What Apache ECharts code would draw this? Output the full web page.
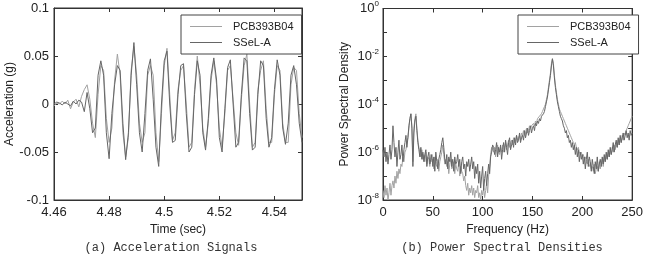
<!DOCTYPE html>
<html>
<head>
<meta charset="utf-8">
<script src="https://cdn.jsdelivr.net/npm/echarts@6/dist/echarts.min.js"></script>
<style>
  html, body { margin: 0; padding: 0; background: #fff; }
  #chart { width: 646px; height: 261px; }
</style>
</head>
<body>
<div id="chart"></div>
<script>
// time signals, sampled every 1 ms from 4.46 s
const tStart = 4.46;
const tStep = 0.001;
const accSSeL = [
  0.000, 0.002, 0.001, -0.001, 0.002, 0.000, -0.002, 0.003, 0.000, 0.004,
  0.002, -0.008, 0.012, -0.005, -0.030, -0.025, 0.030, 0.045, 0.030, -0.030,
  -0.057, -0.010, 0.020, 0.040, 0.035, -0.020, -0.058, -0.030, 0.030, 0.064,
  0.020, -0.030, -0.050, -0.010, 0.035, 0.047, 0.005, -0.045, -0.065, 0.000,
  0.045, 0.055, 0.000, -0.040, -0.038, 0.010, 0.040, 0.042, -0.010, -0.050,
  -0.045, 0.010, 0.045, 0.030, -0.030, -0.048, -0.015, 0.030, 0.048, 0.025,
  -0.035, -0.050, -0.005, 0.038, 0.046, 0.000, -0.045, -0.040, 0.010, 0.048,
  0.045, -0.010, -0.048, -0.045, 0.010, 0.045, 0.040, -0.015, -0.045, -0.035,
  0.015, 0.046, 0.030, -0.025, -0.042, -0.020, 0.030, 0.040, 0.020, -0.020,
  -0.040
];
const accPCB = [
  -0.002, 0.001, 0.000, 0.003, 0.000, 0.004, -0.005, 0.002, 0.005, -0.003,
  0.008, 0.015, 0.020, 0.005, -0.020, -0.035, 0.010, 0.040, 0.035, -0.015,
  -0.040, -0.025, 0.025, 0.052, 0.030, -0.030, -0.055, -0.035, 0.035, 0.060,
  0.030, -0.020, -0.040, -0.030, 0.030, 0.040, 0.030, -0.030, -0.060, -0.010,
  0.040, 0.058, 0.010, -0.038, -0.030, 0.015, 0.035, 0.040, 0.000, -0.045,
  -0.040, 0.015, 0.050, 0.020, -0.025, -0.045, -0.020, 0.025, 0.045, 0.020,
  -0.025, -0.045, -0.010, 0.035, 0.040, 0.005, -0.030, -0.043, 0.005, 0.040,
  0.052, 0.000, -0.045, -0.040, 0.015, 0.035, 0.045, -0.005, -0.040, -0.040,
  0.010, 0.040, 0.035, -0.020, -0.040, -0.040, 0.020, 0.038, 0.035, -0.010,
  -0.035
];

// PSD, log10 of the value, one per Hz from 0 to 250
const fStep = 1;
const psdSSeL = [
  -5.9, -6.2, -5.8, -6.4, -6.0, -6.5, -6.1, -5.7, -6.3, -5.9,
  -4.9, -5.6, -6.2, -5.8, -6.6, -6.0, -5.5, -6.3, -6.1, -5.7,
  -6.4, -5.9, -5.6, -5.3, -5.8, -5.4, -4.9, -4.6, -4.4, -5.0,
  -6.6, -5.2, -4.7, -4.5, -5.1, -5.6, -5.9, -6.2, -5.8, -6.3,
  -6.0, -6.4, -6.1, -5.9, -6.6, -6.2, -6.0, -6.5, -6.3, -6.1,
  -6.6, -6.2, -6.8, -6.0, -6.4, -6.7, -6.3, -6.1, -5.9, -5.6,
  -5.4, -5.8, -6.3, -6.5, -6.1, -6.7, -6.2, -6.4, -6.0, -6.6,
  -6.3, -6.8, -6.2, -6.5, -6.4, -6.1, -6.6, -6.3, -6.9, -6.4,
  -6.2, -6.7, -6.5, -7.0, -6.4, -6.6, -6.3, -6.8, -6.5, -6.2,
  -6.7, -6.4, -7.1, -6.6, -6.9, -6.5, -7.3, -6.8, -7.5, -7.0,
  -6.6, -7.6, -7.1, -6.8, -7.4, -6.9, -6.5, -6.9, -6.2, -6.0,
  -5.7, -5.8, -6.1, -5.9, -5.6, -6.2, -5.8, -6.0, -5.7, -6.3,
  -5.9, -5.6, -6.0, -5.5, -5.8, -6.1, -5.6, -5.4, -5.9, -5.7,
  -5.5, -5.8, -5.4, -5.7, -5.3, -5.6, -5.5, -5.2, -5.6, -5.4,
  -5.3, -5.5, -5.1, -5.4, -5.2, -5.0, -5.3, -5.1, -4.9, -5.2,
  -5.0, -4.9, -5.1, -4.8, -4.9, -4.7, -4.8, -4.6, -4.7, -4.5,
  -4.5, -4.4, -4.3, -4.1, -3.9, -3.7, -3.4, -3.1, -2.8, -2.4,
  -2.1, -2.4, -2.9, -3.3, -3.6, -3.9, -4.1, -4.3, -4.5, -4.6,
  -4.7, -4.9, -5.0, -5.2, -5.1, -5.4, -5.3, -5.6, -5.5, -5.8,
  -5.6, -5.9, -5.7, -6.1, -5.8, -6.2, -5.9, -6.4, -6.0, -6.3,
  -6.1, -6.5, -6.2, -6.7, -6.3, -6.0, -6.6, -6.2, -6.4, -6.8,
  -6.3, -6.6, -6.9, -6.4, -6.7, -6.2, -6.8, -6.5, -6.3, -6.6,
  -6.2, -6.5, -6.1, -6.4, -6.0, -6.3, -5.9, -6.2, -5.8, -6.1,
  -5.9, -5.6, -6.0, -5.7, -5.5, -5.8, -5.4, -5.7, -5.3, -5.6,
  -5.4, -5.2, -5.5, -5.3, -5.1, -5.4, -5.2, -5.5, -5.1, -5.3,
  -5.2
];
const psdPCB = [
  -7.6, -7.9, -7.4, -7.8, -7.5, -8.0, -7.7, -7.3, -7.8, -7.4,
  -7.2, -7.5, -7.0, -7.3, -6.8, -7.1, -6.7, -6.9, -6.5, -6.6,
  -6.2, -6.4, -6.0, -5.9, -5.6, -5.4, -5.0, -4.6, -4.4, -4.9,
  -6.4, -5.0, -4.6, -4.4, -5.0, -5.5, -5.8, -6.0, -6.2, -5.9,
  -6.3, -6.1, -6.4, -6.0, -6.5, -6.2, -6.3, -6.6, -6.1, -6.4,
  -6.3, -6.7, -6.2, -6.5, -6.6, -6.3, -6.8, -6.4, -6.2, -6.0,
  -5.7, -6.1, -6.5, -6.3, -6.6, -6.4, -6.9, -6.5, -6.3, -6.7,
  -6.6, -6.4, -6.9, -6.5, -6.7, -6.8, -6.4, -7.0, -6.6, -6.8,
  -6.9, -7.2, -7.0, -7.4, -7.6, -7.3, -7.8, -7.5, -7.7, -7.4,
  -7.8, -7.5, -7.9, -7.6, -7.7, -7.4, -7.9, -7.7, -8.0, -7.6,
  -7.8, -7.5, -7.9, -7.6, -7.3, -7.7, -7.0, -6.6, -6.1, -5.8,
  -5.9, -6.0, -5.8, -6.2, -5.9, -5.7, -6.0, -6.1, -5.8, -6.0,
  -5.7, -6.0, -5.8, -5.6, -5.9, -5.7, -5.5, -5.8, -5.6, -5.5,
  -5.7, -5.4, -5.6, -5.5, -5.3, -5.5, -5.4, -5.3, -5.5, -5.2,
  -5.3, -5.1, -5.3, -5.2, -5.0, -5.2, -5.1, -4.9, -5.0, -4.9,
  -4.9, -4.8, -4.9, -4.7, -4.8, -4.6, -4.6, -4.5, -4.5, -4.4,
  -4.3, -4.3, -4.1, -4.0, -3.8, -3.6, -3.3, -3.0, -2.7, -2.3,
  -2.1, -2.3, -2.8, -3.2, -3.5, -3.8, -4.0, -4.2, -4.3, -4.4,
  -4.5, -4.6, -4.7, -4.8, -4.9, -5.0, -5.1, -5.2, -5.3, -5.4,
  -5.5, -5.6, -5.7, -5.6, -5.8, -5.9, -5.8, -6.0, -6.1, -6.0,
  -6.2, -6.1, -6.3, -6.2, -6.4, -6.5, -6.3, -6.6, -6.5, -6.7,
  -6.6, -6.8, -6.5, -6.9, -6.7, -6.6, -6.8, -6.4, -6.7, -6.5,
  -6.3, -6.6, -6.2, -6.4, -6.1, -6.3, -6.0, -6.2, -5.9, -6.1,
  -5.8, -6.0, -5.7, -5.9, -5.6, -5.8, -5.5, -5.7, -5.4, -5.6,
  -5.3, -5.5, -5.2, -5.3, -5.1, -5.0, -4.9, -4.8, -4.7, -4.6,
  -4.5
];

const names = ['PCB393B04', 'SSeL-A'];
const colPCB = '#a2a2a2';
const colSSeL = '#666666';
const axisCol = '#333';
const font = 'Liberation Sans, Arial, sans-serif';

const timePairs = arr => arr.map((v, i) => [tStart + i * tStep, v]);
const psdPairs = arr => arr.map((v, i) => [i * fStep, Math.pow(10, v)]);

const tickStyle = { inside: true, length: 4, lineStyle: { color: axisCol } };
const lineStyleAxis = { onZero: false, lineStyle: { color: axisCol, width: 1 } };
const labelStyle = { color: '#222', fontSize: 13, fontFamily: font };

// mirrored axes (top / right) just for the boxed MATLAB look
const mirrorX = (grid, opt) => Object.assign({
  gridIndex: grid, position: 'top', axisLine: lineStyleAxis,
  axisTick: tickStyle, axisLabel: { show: false }, splitLine: { show: false }
}, opt);
const mirrorY = (grid, opt) => Object.assign({
  gridIndex: grid, position: 'right', axisLine: lineStyleAxis,
  axisTick: tickStyle, axisLabel: { show: false }, splitLine: { show: false }
}, opt);

const legendBase = {
  orient: 'vertical',
  top: 15,
  padding: [5, 8, 5, 9],
  icon: 'rect',
  itemWidth: 32,
  itemHeight: 1,
  itemGap: 3,
  backgroundColor: '#fff',
  borderColor: '#444',
  borderWidth: 1,
  borderRadius: 0,
  itemStyle: { borderWidth: 0 },
  textStyle: { fontSize: 11, fontFamily: font, color: '#222', padding: [0, 0, 0, 6], lineHeight: 13 },
  data: names
};

const logLabel = v => {
  const e = Math.round(Math.log10(v));
  if (e % 2 !== 0) return '';
  return '{b|10}{s|' + e + '}';
};

const chart = echarts.init(document.getElementById('chart'));
chart.setOption({
  animation: false,
  backgroundColor: '#fff',
  textStyle: { fontFamily: font },
  grid: [
    { left: 54, right: 344, top: 8, bottom: 61, show: true, borderColor: axisCol, borderWidth: 1 },
    { left: 383, right: 7, top: 8, bottom: 61, show: true, borderColor: axisCol, borderWidth: 1 }
  ],
  legend: [
    Object.assign({}, legendBase, { left: 181 }),
    Object.assign({}, legendBase, { left: 518 })
  ],
  xAxis: [
    {
      type: 'value', gridIndex: 0, min: 4.46, max: 4.55, interval: 0.02,
      name: 'Time (sec)', nameLocation: 'middle', nameGap: 24,
      nameTextStyle: { fontSize: 12, color: '#222', fontFamily: font },
      axisLine: lineStyleAxis, axisTick: tickStyle,
      axisLabel: Object.assign({ margin: 6, showMaxLabel: false }, labelStyle),
      splitLine: { show: false }
    },
    mirrorX(0, { type: 'value', min: 4.46, max: 4.55, interval: 0.02 }),
    {
      type: 'value', gridIndex: 1, min: 0, max: 250, interval: 50,
      name: 'Frequency (Hz)', nameLocation: 'middle', nameGap: 24,
      nameTextStyle: { fontSize: 12, color: '#222', fontFamily: font },
      axisLine: lineStyleAxis, axisTick: tickStyle,
      axisLabel: Object.assign({ margin: 6 }, labelStyle),
      splitLine: { show: false }
    },
    mirrorX(1, { type: 'value', min: 0, max: 250, interval: 50 })
  ],
  yAxis: [
    {
      type: 'value', gridIndex: 0, min: -0.1, max: 0.1, interval: 0.05,
      name: 'Acceleration (g)', nameLocation: 'middle', nameGap: 38,
      nameTextStyle: { fontSize: 12, color: '#222', fontFamily: font },
      axisLine: lineStyleAxis, axisTick: tickStyle,
      axisLabel: Object.assign({ margin: 5 }, labelStyle),
      splitLine: { show: false }
    },
    mirrorY(0, { type: 'value', min: -0.1, max: 0.1, interval: 0.05 }),
    {
      type: 'log', logBase: 10, gridIndex: 1, min: 1e-8, max: 1,
      name: 'Power Spectral Density', nameLocation: 'middle', nameGap: 32,
      nameTextStyle: { fontSize: 12, color: '#222', fontFamily: font },
      axisLine: lineStyleAxis, axisTick: tickStyle,
      axisLabel: {
        margin: 4,
        formatter: logLabel,
        rich: {
          b: { fontSize: 13, color: '#222', fontFamily: font },
          s: { fontSize: 8, color: '#222', fontFamily: font, verticalAlign: 'top', padding: [0, 0, 9, 0] }
        }
      },
      splitLine: { show: false }
    },
    mirrorY(1, { type: 'log', logBase: 10, min: 1e-8, max: 1 })
  ],
  series: [
    {
      name: names[0], type: 'line', xAxisIndex: 0, yAxisIndex: 0,
      data: timePairs(accPCB), symbol: 'none', color: colPCB,
      lineStyle: { width: 1, color: colPCB }
    },
    {
      name: names[1], type: 'line', xAxisIndex: 0, yAxisIndex: 0,
      data: timePairs(accSSeL), symbol: 'none', color: colSSeL,
      lineStyle: { width: 1, color: colSSeL }
    },
    {
      name: names[0], type: 'line', xAxisIndex: 2, yAxisIndex: 2,
      data: psdPairs(psdPCB), symbol: 'none', color: colPCB,
      lineStyle: { width: 1, color: colPCB }
    },
    {
      name: names[1], type: 'line', xAxisIndex: 2, yAxisIndex: 2,
      data: psdPairs(psdSSeL), symbol: 'none', color: colSSeL,
      lineStyle: { width: 1, color: colSSeL }
    }
  ],
  graphic: [
    {
      type: 'text', x: 171, y: 248,
      style: {
        text: '(a) Acceleration Signals', align: 'center', verticalAlign: 'middle',
        font: '12px "Liberation Mono", monospace', fill: '#333'
      }
    },
    {
      type: 'text', x: 502, y: 248,
      style: {
        text: '(b) Power Spectral Densities', align: 'center', verticalAlign: 'middle',
        font: '12px "Liberation Mono", monospace', fill: '#333'
      }
    }
  ]
});
</script>
</body>
</html>
